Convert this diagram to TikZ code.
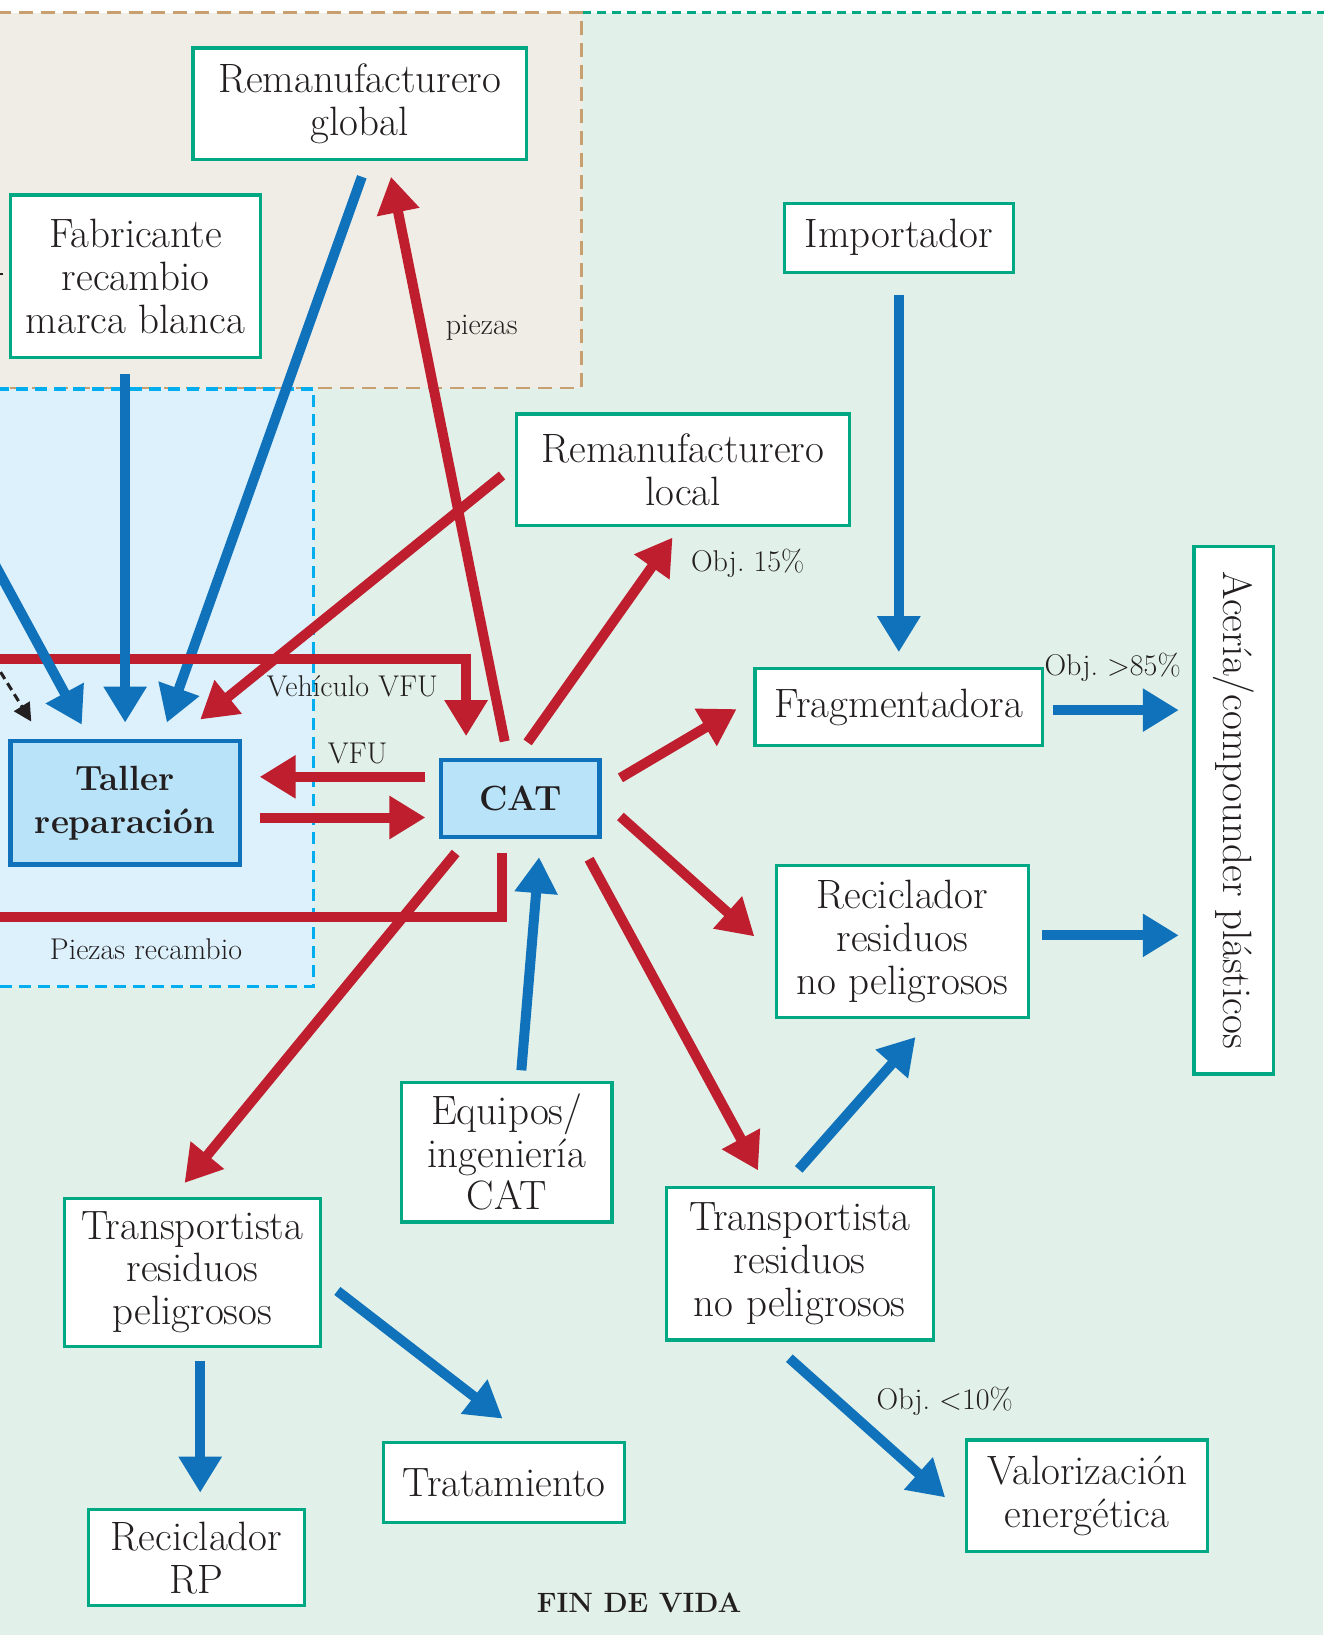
\documentclass[tikz,border=0pt]{standalone}
\usetikzlibrary{arrows.meta,calc}

\definecolor{ink}{RGB}{35,31,32}
\definecolor{bggreen}{RGB}{225,240,232}
\definecolor{boxgreen}{RGB}{0,168,132}
\definecolor{tanfill}{RGB}{240,237,230}
\definecolor{tanline}{RGB}{200,160,112}
\definecolor{bluefill}{RGB}{220,241,251}
\definecolor{cyanline}{RGB}{0,174,239}
\definecolor{hubfill}{RGB}{185,227,248}
\definecolor{flowblue}{RGB}{16,114,186}
\definecolor{flowred}{RGB}{190,30,45}

\newcommand\boxfont{\fontsize{41bp}{42.7bp}\selectfont}
\newcommand\hubfont{\fontsize{35bp}{42.7bp}\selectfont\bfseries}
\newcommand\lblfont{\fontsize{30bp}{34bp}\selectfont}
\newcommand\titlefont{\fontsize{28bp}{32bp}\selectfont\bfseries}

\begin{document}
\frenchspacing
\begin{tikzpicture}[x=1.0426bp, y=-1.0426bp,
  sz/.style 2 args={minimum width=1.0426*#1bp, minimum height=1.0426*#2bp},
  box/.style={draw=boxgreen, line width=3.2bp, fill=white, inner sep=0pt,
    align=center, text=ink, font=\boxfont},
  hub/.style={draw=flowblue, line width=4.2bp, fill=hubfill, inner sep=0pt,
    align=center, text=ink, font=\hubfont},
  lbl/.style={text=ink, font=\lblfont, inner sep=0pt},
  blueflow/.style={draw=flowblue, line width=10bp, -{Triangle[length=36bp,width=41bp]}},
  redflow/.style={draw=flowred, line width=10bp, -{Triangle[length=36bp,width=41bp]}},
  redline/.style={draw=flowred, line width=10bp},
  hint/.style={draw=ink, line width=3bp, dash pattern=on 8bp off 5bp,
    -{Triangle[length=18bp,width=18bp]}},
]
\useasboundingbox (0,0) rectangle (1269,1568);

% background zones
\fill[bggreen] (0,12) rectangle (1269,1568);
\draw[boxgreen, line width=2.2bp, dash pattern=on 9bp off 6bp] (558,12) -- (1280,12);
\draw[tanline, fill=tanfill, line width=2.8bp, dash pattern=on 14bp off 8bp]
  (-10,12) rectangle (558,372);
\draw[cyanline, fill=bluefill, line width=3.2bp, dash pattern=on 12bp off 7bp]
  (-10,373) rectangle (301,946);

% actors
\node[box, sz={320}{107}] (rglobal) at (345,99.5) {Remanufacturero\\global};
\node[box, sz={240}{156}] (fab) at (130,265) {Fabricante\\recambio\\marca blanca};
\node[box, sz={220}{66}] (imp) at (862,228) {Importador};
\node[box, sz={320}{107}] (rlocal) at (655,450.5) {Remanufacturero\\local};
\node[box, sz={276}{74}] (frag) at (862,678) {Fragmentadora};
\node[box, sz={76}{506},
  label={[rotate=-90, text=ink, font=\boxfont]center:Acería/compounder plásticos}]
  (aceria) at (1183,777) {};
\node[hub, sz={220}{118}] (taller) at (120,770) {Taller\\reparación};
\node[hub, sz={152}{74}] (cat) at (499,766) {CAT};
\node[box, sz={241}{146}] (recnp) at (865.5,903) {Reciclador\\residuos\\no peligrosos};
\node[box, sz={202}{134}] (equipos) at (486,1105) {Equipos/\\ingeniería\\CAT};
\node[box, sz={245}{142}] (tp) at (184.5,1220) {Transportista\\residuos\\peligrosos};
\node[box, sz={256}{146}] (tnp) at (767,1212) {Transportista\\residuos\\no peligrosos};
\node[box, sz={231}{77}] (trat) at (483.5,1421.5) {Tratamiento};
\node[box, sz={207}{92}] (rrp) at (188.5,1494) {Reciclador\\RP};
\node[box, sz={231}{107}] (valor) at (1042.5,1434.5) {Valorización\\energética};

% loose ends entering from the left margin
\coordinate (westA) at (-10,532);
\coordinate (westB) at (-10,632);
\coordinate (westC) at (-10,879);
\coordinate (westD) at (-6,634);
\coordinate (westE) at (-6,263);

% this blue flow passes under the red VFU line
\draw[blueflow] ($(rglobal.south)+(2,15)$) -- ($(taller.north)+(40,-16)$);

% red flows
\draw[redflow] ($(rlocal.west)+(-12,5.5)$) -- ($(taller.north east)+(-40,-19)$);
\draw[redflow] ($(cat.north)+(-15,-16)$) -- ($(rglobal.south)+(30,15)$);
\draw[redflow] ($(cat.north)+(7,-15)$) -- ($(rlocal.south)+(-10,10)$);
\draw[redflow] ($(cat.east)+(18,-20)$) -- ($(frag.west)+(-16,2)$);
\draw[redflow] ($(cat.east)+(18,17)$) -- ($(recnp.west)+(-20,-5)$);
\draw[redflow] ($(cat.south)+(66,19)$) -- ($(tnp.north)+(-40,-15)$);
\draw[redflow] ($(cat.south)+(-62,13)$) -- ($(tp.north)+(-7.5,-13)$);
\draw[redflow] ($(cat.west)+(-13,-21)$) -- ($(taller.east)+(17,-25)$);
\draw[redflow] ($(taller.east)+(17,14)$) -- ($(cat.west)+(-13,18)$);
\draw[redflow] (westB) -| ($(cat.north)+(-52,-21)$);
\draw[redline] ($(cat.south)+(-18,13)$) |- (westC);

% blue flows
\draw[blueflow] ($(fab.south)+(-10,14)$) -- ($(taller.north)+(0,-16)$);
\draw[blueflow] (westA) -- ($(taller.north west)+(70.5,-14)$);
\draw[blueflow] ($(imp.south)+(0,20)$) -- ($(frag.north)+(0,-14)$);
\draw[blueflow] ($(frag.east)+(8,3)$) -- ($(frag.east -| aceria.west)+(-13,3)$);
\draw[blueflow] ($(recnp.east)+(12,-6)$) -- ($(recnp.east -| aceria.west)+(-13,-6)$);
\draw[blueflow] ($(equipos.north)+(14,-10)$) -- ($(cat.south)+(18,17)$);
\draw[blueflow] ($(tnp.north)+(-1,-16)$) -- ($(recnp.south)+(12.5,17)$);
\draw[blueflow] ($(tp.east)+(15,18)$) -- ($(trat.north)+(-1.5,-21)$);
\draw[blueflow] ($(tp.south)+(7.5,13)$) -- ($(rrp.north)+(3.5,-15)$);
\draw[blueflow] ($(tnp.south)+(-10,16)$) -- ($(valor.west)+(-19,1.5)$);

% dashed hint and stub at the left margin
\draw[hint] (westD) -- ($(taller.north west)+(22,-17)$);
\draw[ink, line width=2.5bp] (westE) -- ++(9,0);

% flow labels
\node[lbl] (lpiezas) at (462,314) {piezas};
\node[lbl] (lobj15) at (717,540) {Obj. 15\%};
\node[lbl] (lveh) at (338,658) {Vehículo VFU};
\node[lbl] (lvfu) at (343,723) {VFU};
\node[lbl] (lobj85) at (1067,640) {Obj. >85\%};
\node[lbl] (lpiezasr) at (140,910) {Piezas recambio};
\node[lbl] (lobj10) at (906,1344) {Obj. <10\%};
\node[text=ink, font=\titlefont, inner sep=0pt] (title) at (613,1537) {FIN DE VIDA};
\end{tikzpicture}
\end{document}
